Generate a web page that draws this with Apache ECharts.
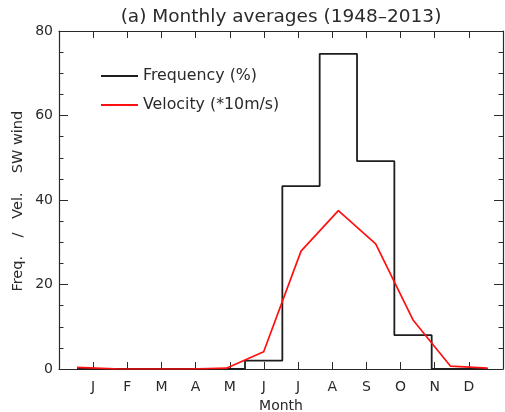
<!DOCTYPE html>
<html>
<head>
<meta charset="utf-8">
<title>Monthly averages</title>
<script src="https://cdn.jsdelivr.net/npm/echarts@6/dist/echarts.min.js"></script>
<style>html, body { margin: 0; padding: 0; background: #fff; }</style>
</head>
<body>
<div id="chart" style="width: 505px; height: 412px;"></div>
<script>
// values
const months = ['J', 'F', 'M', 'A', 'M', 'J', 'J', 'A', 'S', 'O', 'N', 'D'];
const frequency = [0, 0, 0, 0, 0, 2, 43.3, 74.6, 49.2, 8, 0, 0];
const velocity = [0.4, 0.05, 0, 0, 0.2, 4.1, 27.9, 37.5, 29.6, 11.6, 0.7, 0.2];
const yMax = 80;
const yStep = 20;

const chart = echarts.init(document.getElementById('chart'));
const ink = '#2a2a2a';
const font = 'DejaVu Sans';

// month names sit on 13 equal divisions of the frame, blank at both ends
const tickNames = [''].concat(months, ['']);

// the curves are drawn at month index 0..11 on their own (hidden) axis
const toPoints = arr => arr.map((v, i) => [i, v]);

// onZero off, otherwise the top/right frame axes jump onto the zero lines
const frameLine = { show: true, onZero: false, lineStyle: { color: ink, width: 1.2 } };
const xTick = { inside: true, length: 7, lineStyle: { color: ink } };
const yTick = { inside: true, length: 9, lineStyle: { color: ink } };
const yMinor = { show: true, splitNumber: 4, length: 4.5, lineStyle: { color: ink } };

const option = {
    animation: false,
    grid: { left: 59, right: 2, top: 31, bottom: 43, outerBoundsMode: 'none' },
    graphic: [
        {
            type: 'text', x: 281, y: 17,
            style: {
                text: '(a) Monthly averages (1948\u20132013)',
                font: '18.5px "DejaVu Sans"', fill: ink,
                textAlign: 'center', textVerticalAlign: 'middle'
            }
        },
        {
            type: 'text', x: 18, y: 242, rotation: Math.PI / 2,
            style: {
                text: 'Freq.    /   Vel.',
                font: '14.5px "DejaVu Sans"', fill: ink,
                textAlign: 'center', textVerticalAlign: 'middle'
            }
        },
        {
            type: 'text', x: 18, y: 142, rotation: Math.PI / 2,
            style: {
                text: 'SW wind',
                font: '14.5px "DejaVu Sans"', fill: ink,
                textAlign: 'center', textVerticalAlign: 'middle'
            }
        }
    ],
    legend: {
        orient: 'vertical',
        left: 96,
        top: 63,
        icon: 'rect',
        itemWidth: 37,
        itemHeight: 2,
        itemGap: 13,
        textStyle: { fontSize: 15.8, color: ink, fontFamily: font },
        data: ['Frequency (%)', 'Velocity (*10m/s)']
    },
    xAxis: [
        {
            type: 'value', position: 'bottom', min: 0, max: 13, interval: 1,
            axisLine: frameLine,
            axisTick: xTick,
            splitLine: { show: false },
            axisLabel: {
                margin: 11, fontSize: 14, color: ink, fontFamily: font,
                formatter: v => tickNames[Math.round(v)] || ''
            },
            name: 'Month', nameLocation: 'middle', nameGap: 25,
            nameTextStyle: { fontSize: 14, color: ink, fontFamily: font }
        },
        {
            type: 'value', position: 'top', min: 0, max: 13, interval: 1,
            axisLine: frameLine,
            axisTick: xTick,
            splitLine: { show: false },
            axisLabel: { show: false }
        },
        {
            type: 'value', show: false, min: -0.482, max: 11.41
        }
    ],
    yAxis: [
        {
            type: 'value', position: 'left', min: 0, max: yMax, interval: yStep,
            axisLine: frameLine,
            axisTick: yTick,
            minorTick: yMinor,
            splitLine: { show: false },
            minorSplitLine: { show: false },
            axisLabel: { margin: 6, fontSize: 14, color: ink, fontFamily: font }
        },
        {
            type: 'value', position: 'right', min: 0, max: yMax, interval: yStep,
            axisLine: frameLine,
            axisTick: yTick,
            minorTick: yMinor,
            splitLine: { show: false },
            axisLabel: { show: false }
        }
    ],
    series: [
        {
            name: 'Frequency (%)',
            type: 'line',
            xAxisIndex: 2,
            yAxisIndex: 0,
            step: 'middle',
            symbol: 'none',
            color: '#1e1e1e',
            lineStyle: { color: '#1e1e1e', width: 1.8 },
            data: toPoints(frequency),
            z: 3
        },
        {
            name: 'Velocity (*10m/s)',
            type: 'line',
            xAxisIndex: 2,
            yAxisIndex: 0,
            symbol: 'none',
            color: '#ff1010',
            lineStyle: { color: '#ff1010', width: 1.7 },
            data: toPoints(velocity),
            z: 4
        }
    ]
};

chart.setOption(option);
</script>
</body>
</html>
